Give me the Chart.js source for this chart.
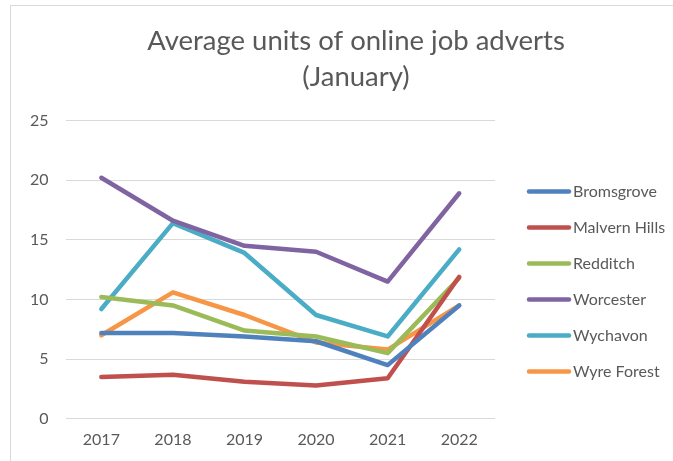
<!DOCTYPE html>
<html>
<head>
<meta charset="utf-8">
<script src="https://cdn.jsdelivr.net/npm/chart.js@4"></script>
<style>
  html, body { margin: 0; padding: 0; background: #fff; overflow: hidden; }
  .chart-box {
    position: absolute; left: 10px; top: 5px;
    width: 688px; height: 470px;
    border: 1px solid #d9d9d9;
  }
</style>
</head>
<body>
<div class="chart-box"><canvas id="advertsChart"></canvas></div>
<script>
var years = ['2017', '2018', '2019', '2020', '2021', '2022'];
var bromsgrove = [7.2, 7.2, 6.9, 6.5, 4.5, 9.5];
var malvernHills = [3.5, 3.7, 3.1, 2.8, 3.4, 11.9];
var redditch = [10.2, 9.5, 7.4, 6.9, 5.5, 11.8];
var worcester = [20.2, 16.6, 14.5, 14.0, 11.5, 18.9];
var wychavon = [9.2, 16.4, 13.9, 8.7, 6.9, 14.2];
var wyreForest = [7.0, 10.6, 8.7, 6.4, 5.8, 9.5];
var yTicks = [0, 5, 10, 15, 20, 25];

var textColor = '#595959';
var fontFamily = 'Lato, "Open Sans", sans-serif';

function series(label, values, colour) {
    return {
        label: label,
        data: values,
        borderColor: colour,
        backgroundColor: colour,
        borderWidth: 4.5,
        borderJoinStyle: 'round',
        borderCapStyle: 'round',
        pointRadius: 0,
        tension: 0,
        fill: false
    };
}

// legend drawn by hand so it can sit right of the plot and run off the edge like the original
var sideLegend = {
    id: 'sideLegend',
    afterDraw: function (chart) {
        var c = chart.ctx;
        var area = chart.chartArea;
        var x0 = area.right + 32;
        var y0 = area.top + 71;
        c.save();
        c.font = '16px ' + fontFamily;
        c.textBaseline = 'middle';
        c.textAlign = 'left';
        chart.data.datasets.forEach(function (ds, i) {
            var y = y0 + i * 36;
            c.strokeStyle = ds.borderColor;
            c.lineWidth = 4.5;
            c.lineCap = 'round';
            c.beginPath();
            c.moveTo(x0 + 2, y);
            c.lineTo(x0 + 42, y);
            c.stroke();
            c.fillStyle = textColor;
            c.fillText(ds.label, x0 + 46, y);
        });
        c.restore();
    }
};

var ctx = document.getElementById('advertsChart').getContext('2d');
var advertsChart = new Chart(ctx, {
    type: 'line',
    data: {
        labels: years,
        datasets: [
            series('Bromsgrove', bromsgrove, '#4F81BD'),
            series('Malvern Hills', malvernHills, '#C0504D'),
            series('Redditch', redditch, '#9BBB59'),
            series('Worcester', worcester, '#8064A2'),
            series('Wychavon', wychavon, '#4BACC6'),
            series('Wyre Forest', wyreForest, '#F79646')
        ]
    },
    options: {
        responsive: true,
        maintainAspectRatio: false,
        animation: false,
        layout: {
            padding: { left: 2, right: 0, top: 0, bottom: 24 }
        },
        scales: {
            x: {
                offset: true,
                grid: { display: false },
                border: { display: false },
                ticks: {
                    color: textColor,
                    padding: 3,
                    font: { family: fontFamily, size: 16 }
                }
            },
            y: {
                min: 0,
                max: 25,
                afterBuildTicks: function (scale) {
                    scale.ticks = yTicks.map(function (v) { return { value: v }; });
                },
                grid: { color: '#d9d9d9', lineWidth: 1, drawTicks: false },
                border: { display: false },
                ticks: {
                    color: textColor,
                    padding: 17,
                    font: { family: fontFamily, size: 16 }
                }
            },
            // empty axis that only reserves room for the legend on the right
            legendSpace: {
                type: 'linear',
                position: 'right',
                display: true,
                grid: { display: false },
                border: { display: false },
                ticks: { display: false },
                afterFit: function (scale) { scale.width = 204; }
            }
        },
        plugins: {
            title: {
                display: true,
                text: ['Average units of online job adverts', '(January)'],
                color: textColor,
                font: { family: fontFamily, size: 27.5, weight: 'normal', lineHeight: 1.3 },
                padding: { top: 17, bottom: 26 }
            },
            legend: { display: false },
            tooltip: { enabled: false }
        }
    },
    plugins: [sideLegend]
});
</script>
</body>
</html>
